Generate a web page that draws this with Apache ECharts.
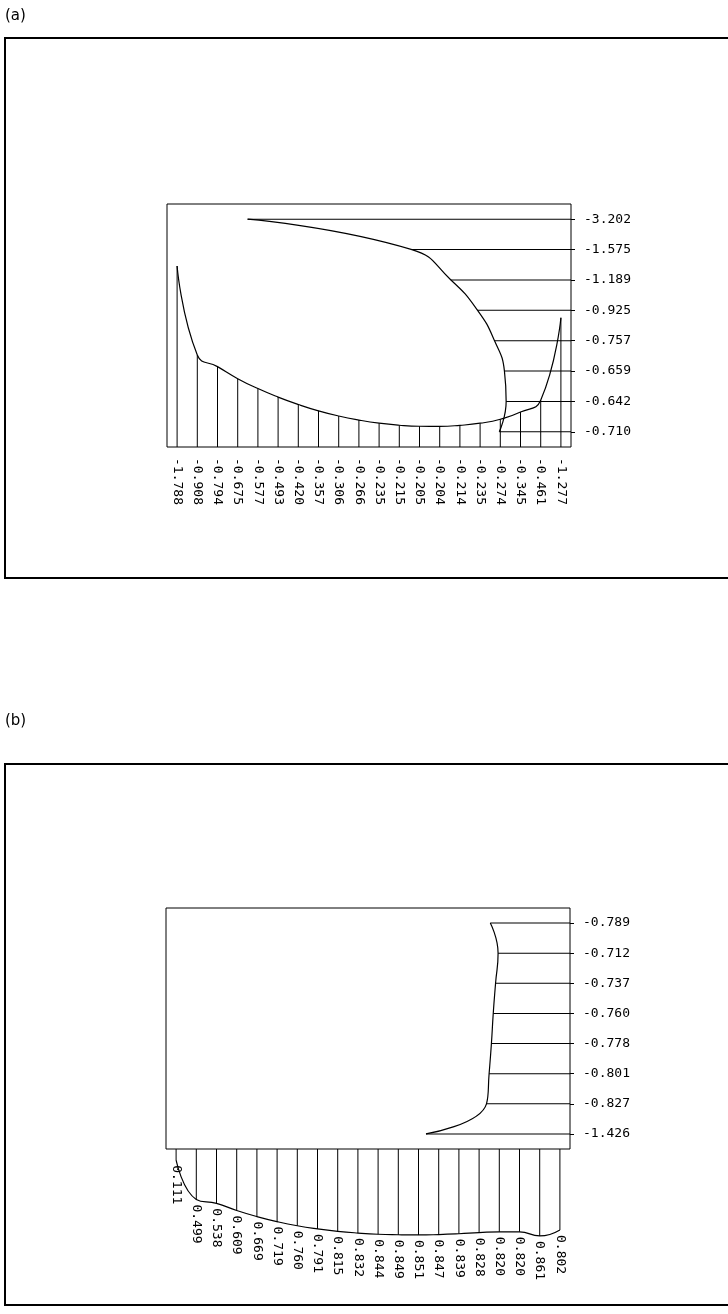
<!DOCTYPE html>
<html>
<head>
<meta charset="utf-8">
<script src="https://cdn.jsdelivr.net/npm/echarts@6/dist/echarts.min.js"></script>
<style>
body { margin: 0; background: #fff; }
#main { width: 728px; height: 1314px; }
</style>
</head>
<body>
<div id="main"></div>
<script>
// valores: (a) em cima, (b) embaixo
const aBaixo = [-1.788, -0.908, -0.794, -0.675, -0.577, -0.493, -0.420, -0.357, -0.306, -0.266,
  -0.235, -0.215, -0.205, -0.204, -0.214, -0.235, -0.274, -0.345, -0.461, -1.277];
const aDireita = [-3.202, -1.575, -1.189, -0.925, -0.757, -0.659, -0.642, -0.710];
const bBaixo = [0.111, 0.499, 0.538, 0.609, 0.669, 0.719, 0.760, 0.791, 0.815, 0.832,
  0.844, 0.849, 0.851, 0.847, 0.839, 0.828, 0.820, 0.820, 0.861, 0.802];
const bDireita = [-0.789, -0.712, -0.737, -0.760, -0.778, -0.801, -0.827, -1.426];

var chartDom = document.getElementById('main');
var myChart = echarts.init(chartDom);
var option;

const fonte = 'DejaVu Sans Mono';
const rotulo = v => v.toFixed(3);

const labelDireita = { color: '#000', fontSize: 13, fontFamily: fonte, margin: 13 };
const tickDireita = { show: true, alignWithLabel: true, length: 4, lineStyle: { color: '#000', width: 1 } };

function barras(xi, yi, dados) {
  return {
    type: 'bar', xAxisIndex: xi, yAxisIndex: yi, data: dados,
    barWidth: 1, itemStyle: { color: '#000' }, silent: true
  };
}

function curva(xi, yi, dados) {
  return {
    type: 'line', xAxisIndex: xi, yAxisIndex: yi, data: dados,
    smooth: true, symbol: 'none', silent: true,
    lineStyle: { color: '#000', width: 1.2 }
  };
}

option = {
  animation: false,
  backgroundColor: '#fff',
  textStyle: { fontFamily: fonte },
  graphic: [
    { type: 'rect', shape: { x: 5, y: 38, width: 740, height: 540 },
      style: { fill: 'none', stroke: '#000', lineWidth: 2 } },
    { type: 'rect', shape: { x: 5, y: 764, width: 740, height: 541 },
      style: { fill: 'none', stroke: '#000', lineWidth: 2 } },
    { type: 'text', left: 5, top: 9, style: { text: '(a)', font: '15px "DejaVu Sans"', fill: '#000' } },
    { type: 'text', left: 5, top: 714, style: { text: '(b)', font: '15px "DejaVu Sans"', fill: '#000' } }
  ],
  grid: [
    { left: 167, top: 204, width: 404, height: 243, show: true, borderColor: '#000', borderWidth: 1 },
    { left: 167, top: 204, width: 404, height: 243 },
    { left: 166, top: 908, width: 404, height: 241, show: true, borderColor: '#000', borderWidth: 1 },
    { left: 166, top: 1149, width: 404, height: 101 }
  ],
  xAxis: [
    { gridIndex: 0, type: 'category', data: aBaixo.map(rotulo),
      axisLine: { show: false }, axisTick: { show: false },
      axisLabel: { rotate: -90, interval: 0, margin: 11, color: '#000', fontSize: 13, fontFamily: fonte } },
    { gridIndex: 1, type: 'value', min: -4, max: 0, show: false },
    { gridIndex: 2, type: 'value', min: -4, max: 0, show: false },
    { gridIndex: 3, type: 'category', data: bBaixo.map(rotulo), show: false }
  ],
  yAxis: [
    { gridIndex: 0, type: 'value', min: -2.4, max: 0, inverse: true, show: false },
    { gridIndex: 1, type: 'category', data: aDireita.map(rotulo), inverse: true, position: 'right',
      axisLine: { show: false }, axisTick: tickDireita, axisLabel: labelDireita },
    { gridIndex: 2, type: 'category', data: bDireita.map(rotulo), inverse: true, position: 'right',
      axisLine: { show: false }, axisTick: tickDireita, axisLabel: labelDireita },
    { gridIndex: 3, type: 'value', min: 0, max: 1, inverse: true, show: false }
  ],
  series: [
    barras(0, 0, aBaixo),
    curva(0, 0, aBaixo),
    barras(1, 1, aDireita),
    curva(1, 1, aDireita.map((v, i) => [v, i])),
    barras(2, 2, bDireita),
    curva(2, 2, bDireita.map((v, i) => [v, i])),
    Object.assign(barras(3, 3, bBaixo), {
      label: {
        show: true, position: 'bottom', distance: 5, rotate: -90,
        align: 'left', verticalAlign: 'middle',
        color: '#000', fontSize: 13, fontFamily: fonte,
        formatter: p => rotulo(p.value)
      }
    }),
    curva(3, 3, bBaixo)
  ]
};

option && myChart.setOption(option);
</script>
</body>
</html>
